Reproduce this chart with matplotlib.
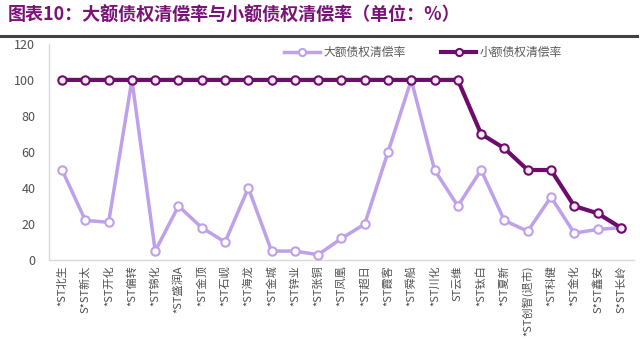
import matplotlib.pyplot as plt
import numpy as np

plt.rcParams['font.family'] = ['Noto Sans CJK SC', 'DejaVu Sans']

# 数据
names = ['*ST北生', 'S*ST新太', '*ST开化', '*ST偏转', '*ST锦化', '*ST盛润A',
         '*ST金顶', '*ST石岘', '*ST海龙', '*ST金城', '*ST锌业', '*ST张铜',
         '*ST凤凰', '*ST超日', '*ST霞客', '*ST舜船', '*ST川化', 'ST云维',
         '*ST钛白', '*ST夏新', '*ST创智(退市)', '*ST科健', '*ST金化',
         'S*ST鑫安', 'S*ST长岭']
big = [50, 22, 21, 100, 5, 30, 18, 10, 40, 5, 5, 3,
       12, 20, 60, 100, 50, 30, 50, 22, 16, 35, 15, 17, 18]
small = [100, 100, 100, 100, 100, 100, 100, 100, 100, 100, 100, 100,
         100, 100, 100, 100, 100, 100, 70, 62, 50, 50, 30, 26, 18]
yticks = [0, 20, 40, 60, 80, 100, 120]

c_big = '#BFA0EA'
c_small = '#6E0C6E'

fig = plt.figure(figsize=(6.4, 3.4), dpi=100)

# 标题和下面的横线
fig.text(0.012, 0.955, '图表10：大额债权清偿率与小额债权清偿率（单位：%）',
         fontsize=13, fontweight='bold', color='#7A1278', va='center')
fig.add_artist(plt.Line2D([0.0, 0.995], [0.893, 0.893], color='#404040', lw=2.2))

ax = fig.add_axes([0.077, 0.235, 0.913, 0.636])
x = np.arange(len(names))

ax.plot(x, big, '-o', color=c_big, lw=2.5, ms=6, mfc='white',
        mec=c_big, mew=1.5, label='大额债权清偿率', zorder=3)
ax.plot(x, small, '-o', color=c_small, lw=3.0, ms=6, mfc='#FBEAF8',
        mec=c_small, mew=1.5, label='小额债权清偿率', zorder=4)

ax.set_xlim(-0.55, len(names) - 0.45)
ax.set_ylim(0, 120)
ax.set_yticks(yticks)
ax.set_xticks(x)
ax.set_xticklabels(names, rotation=90, fontsize=8, color='#505050')
ax.tick_params(axis='y', labelsize=9, colors='#505050', length=0, pad=10)
ax.tick_params(axis='x', length=0, pad=4)

for s in ['top', 'right']:
    ax.spines[s].set_visible(False)
for s in ['left', 'bottom']:
    ax.spines[s].set_color('#D9D9D9')
    ax.spines[s].set_linewidth(1)

leg = ax.legend(loc='upper center', bbox_to_anchor=(0.64, 1.04), ncol=2,
                frameon=False, fontsize=8.5, handlelength=3.0, markerscale=0.85,
                columnspacing=3, handletextpad=0.3)
for t in leg.get_texts():
    t.set_color('#595959')

fig.savefig('out.png', dpi=100)
